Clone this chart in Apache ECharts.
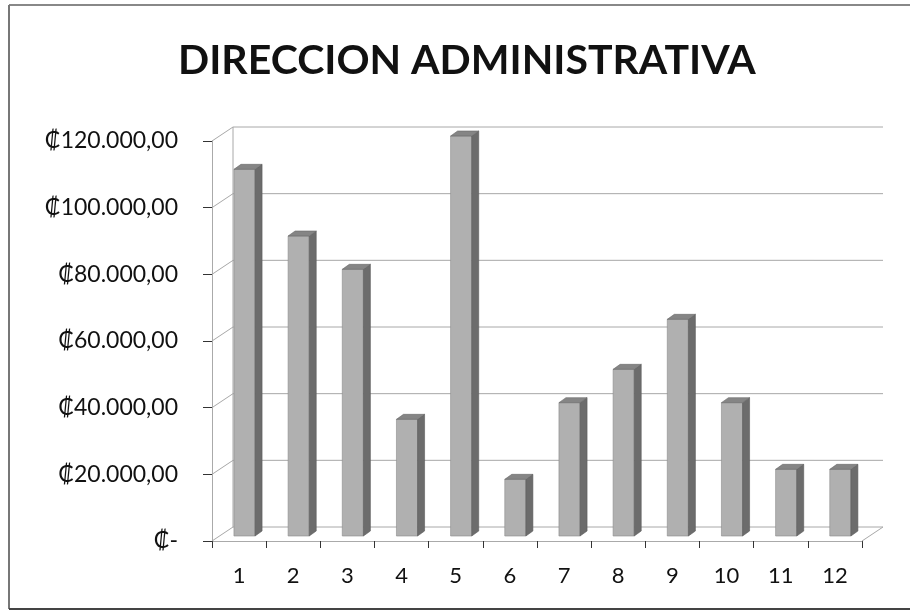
<!DOCTYPE html>
<html>
<head>
<meta charset="utf-8">
<script src="https://cdn.jsdelivr.net/npm/echarts@6/dist/echarts.min.js"></script>
<style>html,body{margin:0;padding:0;background:#fff;}#c{width:910px;height:612px;}</style>
</head>
<body>
<div id="c"></div>
<script>
const titleText = 'DIRECCION ADMINISTRATIVA';
const categories = ['1','2','3','4','5','6','7','8','9','10','11','12'];
const values = [110000, 90000, 80000, 35000, 120000, 17000, 40000, 50000, 65000, 40000, 20000, 20000];
const yTicks = [0, 20000, 40000, 60000, 80000, 100000, 120000];

function fmt(v) {
  if (v === 0) return '₡-';
  const s = String(Math.round(v)).replace(/\B(?=(\d{3})+(?!\d))/g, '.');
  return '₡' + s + ',00';
}

const WDX = 21, WDY = 14;   // wall depth
const BDX = 7, BDY = 5;     // bar depth
const BOFF = 5;             // bar base offset from front floor edge

const chart = echarts.init(document.getElementById('c'));
chart.setOption({
  animation: false,
  backgroundColor: '#ffffff',
  title: {
    text: titleText,
    left: 173,
    top: 35,
    textStyle: { fontFamily: 'Lato', fontWeight: 'bold', fontSize: 41, color: '#111' }
  },
  graphic: [
    { type: 'line', shape: { x1: 9, y1: 5, x2: 910, y2: 5 }, style: { stroke: '#888', lineWidth: 2 } },
    { type: 'line', shape: { x1: 9, y1: 5, x2: 9, y2: 609 }, style: { stroke: '#777', lineWidth: 2 } },
    { type: 'line', shape: { x1: 9, y1: 609, x2: 910, y2: 609 }, style: { stroke: '#444', lineWidth: 2 } }
  ],
  grid: { left: 212, top: 141, width: 650, height: 400, outerBoundsMode: 'none' },
  xAxis: {
    type: 'category',
    data: categories,
    axisLine: { show: true, lineStyle: { color: '#aaa', width: 1 } },
    axisTick: { show: true, length: 7, lineStyle: { color: '#333' } },
    axisLabel: { fontFamily: 'Lato', fontSize: 22, color: '#111', margin: 24 },
    splitLine: { show: false }
  },
  yAxis: {
    type: 'value',
    min: 0, max: 120000, interval: 20000,
    axisLine: { show: true, lineStyle: { color: '#aaa', width: 1 } },
    axisTick: { show: true, inside: false, length: 9, lineStyle: { color: '#333' } },
    axisLabel: { fontFamily: 'Lato', fontSize: 23, color: '#111', margin: 34, formatter: fmt },
    splitLine: { show: false }
  },
  series: [
    {
      type: 'custom',
      name: 'walls',
      clip: false,
      silent: true,
      z: 1,
      data: yTicks.map(v => [0, v]),
      encode: { x: 0, y: 1 },
      renderItem: function (params, api) {
        const v = api.value(1);
        const p = api.coord([0, v]);
        const bw = api.size([1, 0])[0];
        const xl = p[0] - bw / 2;
        const xr = xl + bw * categories.length;
        const y = p[1];
        const st = { stroke: '#a8a8a8', lineWidth: 1 };
        const children = [
          { type: 'line', shape: { x1: xl, y1: y, x2: xl + WDX, y2: y - WDY }, style: st },
          { type: 'line', shape: { x1: xl + WDX, y1: y - WDY, x2: xr + WDX, y2: y - WDY }, style: st }
        ];
        if (v === 0) {
          const top = api.coord([0, yTicks[yTicks.length - 1]]);
          children.push({ type: 'line', shape: { x1: xr, y1: y, x2: xr + WDX, y2: y - WDY }, style: st });
          children.push({ type: 'line', shape: { x1: xl + WDX, y1: y - WDY, x2: xl + WDX, y2: top[1] - WDY }, style: st });
        }
        return { type: 'group', children: children };
      }
    },
    {
      type: 'custom',
      name: 'bars',
      clip: false,
      z: 3,
      data: values.map((v, i) => [i, v]),
      encode: { x: 0, y: 1 },
      renderItem: function (params, api) {
        const i = api.value(0), v = api.value(1);
        const base = api.coord([i, 0]);
        const top = api.coord([i, v]);
        const bw = api.size([1, 0])[0];
        const w = bw * 0.39;
        const cx = base[0] + bw * 0.1;
        const x0 = cx - w / 2, x1 = cx + w / 2;
        const yb = base[1] - BOFF, yt = top[1] - BOFF;
        return {
          type: 'group',
          children: [
            { type: 'rect', shape: { x: x0, y: yt, width: w, height: yb - yt },
              style: { fill: '#b0b0b0', stroke: '#8c8c8c', lineWidth: 0.6 } },
            { type: 'polygon', shape: { points: [[x1, yb], [x1, yt], [x1 + BDX, yt - BDY], [x1 + BDX, yb - BDY]] },
              style: { fill: '#6c6c6c', stroke: '#5a5a5a', lineWidth: 0.6 } },
            { type: 'polygon', shape: { points: [[x0, yt], [x1, yt], [x1 + BDX, yt - BDY], [x0 + BDX, yt - BDY]] },
              style: { fill: '#858585', stroke: '#6a6a6a', lineWidth: 0.6 } }
          ]
        };
      }
    }
  ]
});
</script>
</body>
</html>
